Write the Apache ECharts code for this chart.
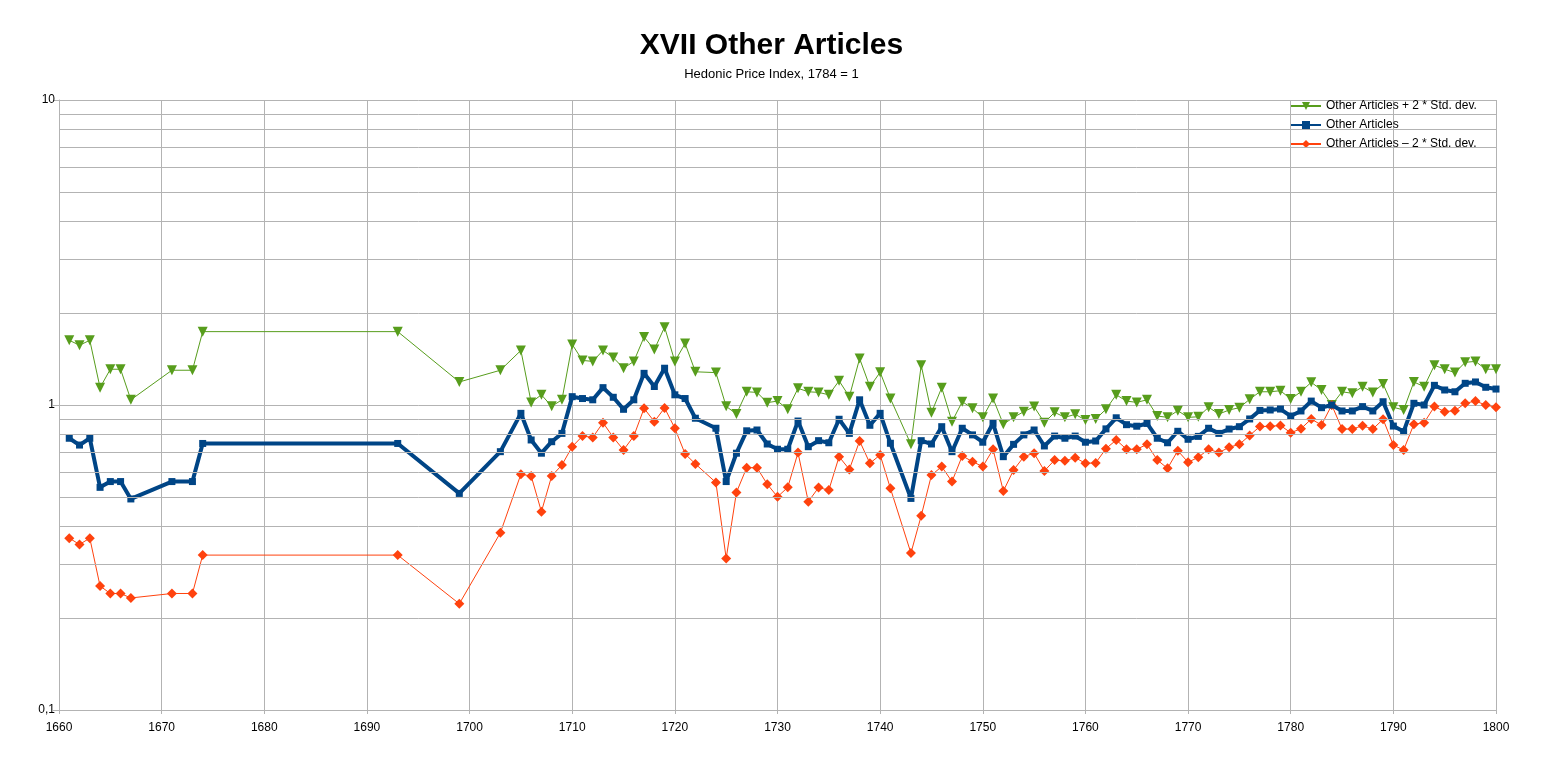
<!DOCTYPE html>
<html>
<head>
<meta charset="utf-8">
<title>XVII Other Articles</title>
<script src="https://cdn.jsdelivr.net/npm/echarts@6/dist/echarts.min.js"></script>
<style>
  html, body { margin: 0; padding: 0; background: #fff; }
  #main { width: 1543px; height: 762px; }
</style>
</head>
<body>
<div id="main"></div>
<script>
// years with an observation
var years = [1661, 1662, 1663, 1664, 1665, 1666, 1667, 1671, 1673, 1674, 1693, 1699, 1703,
  1705, 1706, 1707, 1708, 1709, 1710, 1711, 1712, 1713, 1714, 1715, 1716, 1717, 1718, 1719, 1720, 1721, 1722,
  1724, 1725, 1726, 1727, 1728, 1729, 1730, 1731, 1732, 1733, 1734, 1735, 1736, 1737, 1738, 1739, 1740, 1741,
  1743, 1744, 1745, 1746, 1747, 1748, 1749, 1750, 1751, 1752, 1753, 1754, 1755, 1756, 1757, 1758, 1759, 1760,
  1761, 1762, 1763, 1764, 1765, 1766, 1767, 1768, 1769, 1770, 1771, 1772, 1773, 1774, 1775, 1776, 1777, 1778,
  1779, 1780, 1781, 1782, 1783, 1784, 1785, 1786, 1787, 1788, 1789, 1790, 1791, 1792, 1793, 1794, 1795, 1796,
  1797, 1798, 1799, 1800]

// Other Articles + 2 * Std. dev.
var upper = [1.63, 1.57, 1.63, 1.14, 1.31, 1.31, 1.04, 1.30, 1.30, 1.74, 1.74, 1.19, 1.30,
  1.51, 1.02, 1.08, 0.99, 1.04, 1.58, 1.40, 1.39, 1.51, 1.43, 1.32, 1.39, 1.67, 1.52, 1.80, 1.39, 1.59, 1.285,
  1.277, 0.99, 0.934, 1.105, 1.10, 1.018, 1.03, 0.968, 1.134, 1.105, 1.10, 1.08, 1.20, 1.065, 1.42, 1.148, 1.28, 1.05,
  0.743, 1.35, 0.944, 1.14, 0.882, 1.025, 0.975, 0.911, 1.05, 0.865, 0.911, 0.951, 0.988, 0.875, 0.946, 0.911, 0.932, 0.893,
  0.90, 0.968, 1.08, 1.03, 1.02, 1.04, 0.92, 0.911, 0.958, 0.911, 0.915, 0.983, 0.934, 0.963, 0.98, 1.044, 1.105, 1.105,
  1.114, 1.046, 1.105, 1.187, 1.12, 1.0, 1.105, 1.092, 1.148, 1.10, 1.172, 0.983, 0.963, 1.19, 1.148, 1.35, 1.31, 1.277,
  1.38, 1.39, 1.31, 1.31]

// Other Articles
var index = [0.778, 0.739, 0.778, 0.537, 0.561, 0.561, 0.492, 0.561, 0.561, 0.748, 0.748, 0.513, 0.703,
  0.939, 0.768, 0.695, 0.758, 0.807, 1.065, 1.05, 1.04, 1.14, 1.06, 0.968, 1.04, 1.27, 1.15, 1.32, 1.08, 1.05, 0.905,
  0.839, 0.561, 0.695, 0.823, 0.828, 0.745, 0.716, 0.716, 0.886, 0.73, 0.764, 0.752, 0.898, 0.807, 1.04, 0.858, 0.939, 0.749,
  0.494, 0.764, 0.745, 0.849, 0.703, 0.839, 0.798, 0.755, 0.871, 0.677, 0.743, 0.798, 0.828, 0.734, 0.791, 0.778, 0.791, 0.755,
  0.762, 0.835, 0.908, 0.862, 0.852, 0.87, 0.778, 0.752, 0.82, 0.772, 0.789, 0.839, 0.807, 0.834, 0.849, 0.9, 0.96, 0.963,
  0.970, 0.92, 0.956, 1.03, 0.98, 1.0, 0.956, 0.956, 0.988, 0.956, 1.025, 0.853, 0.818, 1.013, 1.0, 1.16, 1.12, 1.105,
  1.178, 1.19, 1.143, 1.128]

// Other Articles - 2 * Std. dev.
var lower = [0.366, 0.349, 0.366, 0.255, 0.241, 0.241, 0.233, 0.241, 0.241, 0.322, 0.322, 0.223, 0.381,
  0.593, 0.585, 0.447, 0.585, 0.636, 0.730, 0.791, 0.783, 0.875, 0.783, 0.712, 0.791, 0.975, 0.882, 0.978, 0.839, 0.691, 0.641,
  0.557, 0.314, 0.517, 0.623, 0.623, 0.55, 0.50, 0.537, 0.698, 0.482, 0.536, 0.526, 0.677, 0.615, 0.762, 0.644, 0.686, 0.533,
  0.327, 0.433, 0.589, 0.628, 0.561, 0.681, 0.652, 0.628, 0.716, 0.522, 0.612, 0.677, 0.695, 0.608, 0.66, 0.656, 0.672, 0.644,
  0.646, 0.719, 0.768, 0.716, 0.716, 0.743, 0.66, 0.62, 0.708, 0.649, 0.674, 0.716, 0.698, 0.727, 0.743, 0.795, 0.85, 0.851,
  0.857, 0.811, 0.836, 0.899, 0.86, 1.0, 0.834, 0.834, 0.855, 0.834, 0.898, 0.739, 0.712, 0.865, 0.875, 0.988, 0.951, 0.958,
  1.013, 1.03, 1.0, 0.983]

var seriesNames = ['Other Articles + 2 * Std. dev.', 'Other Articles', 'Other Articles \u2013 2 * Std. dev.']
var minorGrid = [0.2, 0.3, 0.4, 0.5, 0.6, 0.7, 0.8, 0.9, 2, 3, 4, 5, 6, 7, 8, 9]

function pairs(vals) {
  return years.map(function (y, i) { return [y, vals[i]] })
}

var font = "'Liberation Sans Narrow', 'Liberation Sans', Arial, sans-serif"
var gridColor = '#b3b3b3'

var chart = echarts.init(document.getElementById('main'))
chart.setOption({
  animation: false,
  backgroundColor: '#fff',
  textStyle: { fontFamily: font, color: '#000' },
  title: {
    text: 'XVII Other Articles',
    subtext: 'Hedonic Price Index, 1784 = 1',
    left: 'center',
    top: 26,
    itemGap: 7,
    textStyle: { fontFamily: font, fontSize: 30, fontWeight: 'bold', color: '#000' },
    subtextStyle: { fontFamily: font, fontSize: 13, color: '#000' }
  },
  legend: {
    data: seriesNames,
    orient: 'vertical',
    left: 1285,
    top: 95,
    itemWidth: 30,
    itemHeight: 10,
    itemGap: 7,
    textStyle: { fontFamily: font, fontSize: 12, color: '#000' }
  },
  grid: { left: 59, right: 47, top: 100, bottom: 52 },
  xAxis: {
    type: 'value',
    min: 1660,
    max: 1800,
    interval: 10,
    axisLine: { show: true, lineStyle: { color: gridColor } },
    axisTick: { show: true, length: 4, lineStyle: { color: gridColor } },
    axisLabel: {
      color: '#000', fontSize: 12, margin: 12,
      formatter: function (v) { return String(v) }
    },
    splitLine: { show: true, lineStyle: { color: gridColor, width: 1 } }
  },
  yAxis: {
    type: 'log',
    logBase: 10,
    min: 0.1,
    max: 10,
    axisLine: { show: true, lineStyle: { color: gridColor } },
    axisTick: { show: true, length: 6, lineStyle: { color: gridColor } },
    axisLabel: {
      color: '#000', fontSize: 12, margin: 4,
      formatter: function (v) { return String(v).replace('.', ',') }
    },
    splitLine: { show: true, lineStyle: { color: gridColor, width: 1 } }
  },
  series: [
    {
      name: 'minor grid',
      type: 'line',
      data: [],
      silent: true,
      z: 1,
      markLine: {
        silent: true,
        symbol: ['none', 'none'],
        label: { show: false },
        lineStyle: { color: gridColor, type: 'solid', width: 1 },
        data: minorGrid.map(function (v) { return { yAxis: v } })
      }
    },
    {
      name: seriesNames[0],
      type: 'line',
      data: pairs(upper),
      z: 3,
      symbol: 'triangle',
      symbolRotate: 180,
      symbolSize: 10,
      itemStyle: { color: '#579d1c' },
      lineStyle: { color: '#579d1c', width: 1 }
    },
    {
      name: seriesNames[1],
      type: 'line',
      data: pairs(index),
      z: 4,
      symbol: 'rect',
      symbolSize: 7,
      itemStyle: { color: '#004586' },
      lineStyle: { color: '#004586', width: 4 }
    },
    {
      name: seriesNames[2],
      type: 'line',
      data: pairs(lower),
      z: 3,
      symbol: 'diamond',
      symbolSize: 10,
      itemStyle: { color: '#ff420e' },
      lineStyle: { color: '#ff420e', width: 1 }
    }
  ]
})
</script>
</body>
</html>
